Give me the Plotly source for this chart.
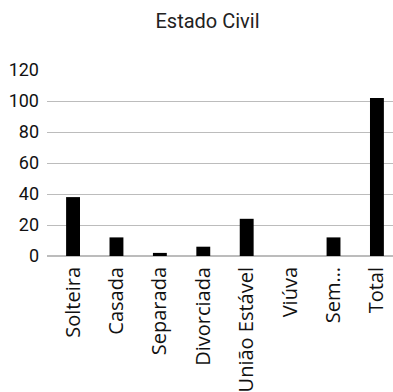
import plotly.graph_objects as go

# Estado civil: contagem por categoria
categorias = ["Solteira", "Casada", "Separada", "Divorciada",
              "União Estável", "Viúva", "Sem…", "Total"]
quantidades = [38, 12, 2, 6, 24, 0, 12, 102]
ticks_y = [0, 20, 40, 60, 80, 100, 120]

W, H = 393, 392
ML, MR, MT, MB = 47, 0, 70, 136

fig = go.Figure(
    go.Bar(
        x=list(range(len(categorias))),
        y=quantidades,
        width=0.32,
        marker=dict(color="#000000", line=dict(width=0)),
    )
)

fig.update_layout(
    width=W,
    height=H,
    margin=dict(l=ML, r=MR, t=MT, b=MB),
    paper_bgcolor="white",
    plot_bgcolor="white",
    showlegend=False,
    title=dict(
        text="Estado Civil",
        x=207.5 / W,
        xanchor="center",
        y=1 - 21 / H,
        yanchor="middle",
        font=dict(family="Roboto", size=20, color="#222222"),
    ),
    xaxis=dict(
        tickmode="array",
        tickvals=list(range(len(categorias))),
        ticktext=categorias,
        tickangle=-90,
        range=[-0.6, 7.37],
        showgrid=False,
        zeroline=False,
        showline=False,
        ticks="",
        ticklabelstandoff=6,
        tickfont=dict(family="Open Sans", size=20, color="#111111"),
    ),
    yaxis=dict(
        range=[0, 120],
        tickmode="array",
        tickvals=ticks_y,
        showgrid=True,
        gridcolor="#bcbcbc",
        gridwidth=1.4,
        zeroline=True,
        zerolinecolor="#bcbcbc",
        zerolinewidth=1.6,
        showline=False,
        ticks="",
        ticklabelstandoff=7,
        tickfont=dict(family="Roboto", size=18, color="#111111"),
    ),
)

fig.write_html("out.html")
